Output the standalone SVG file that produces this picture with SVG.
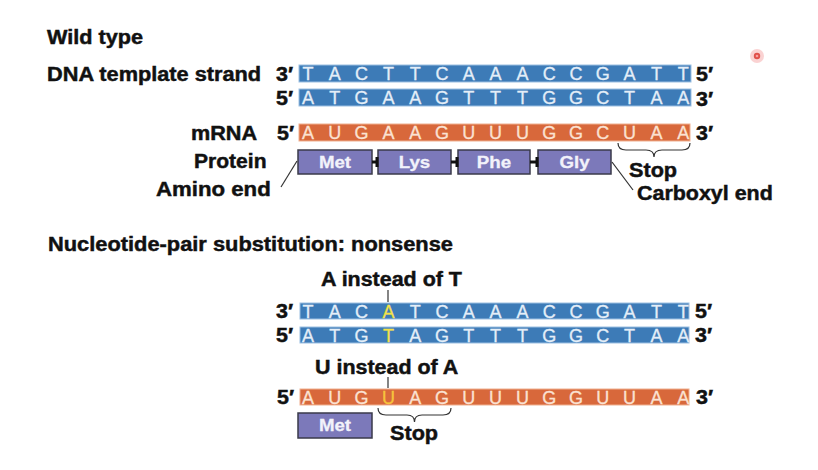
<svg xmlns="http://www.w3.org/2000/svg" width="818" height="470" viewBox="0 0 818 470">
<style>
.lb{font-family:"Liberation Sans",Arial,sans-serif;font-weight:bold;font-size:19.5px;fill:#111;stroke:#111;stroke-width:0.45}
.nt{font-family:"Liberation Sans",Arial,sans-serif;font-size:18px;text-anchor:middle;stroke-width:0.3}
.dna{fill:#3d7bb7;stroke:#9cc0e2;stroke-width:1}
.rna{fill:#d8683b;stroke:#f0b090;stroke-width:1}
.dl{fill:#e4eef8;stroke:#e4eef8}
.rl{fill:#fbe2d2;stroke:#fbe2d2}
.dl .mut{fill:#f3e24a;stroke:#f3e24a}
.rl .mutr{fill:#f7c43c;stroke:#f7c43c}
.box{fill:#7c79ba;stroke:#3a3a4a;stroke-width:1.5}
.bt{font-family:"Liberation Sans",Arial,sans-serif;font-weight:bold;font-size:17px;fill:#f2f2fa;stroke:#f2f2fa;stroke-width:0.3;text-anchor:middle}
.ln{stroke:#333;stroke-width:1.2;fill:none}
.bond{stroke:#111;stroke-width:3}
</style>
<rect width="818" height="470" fill="#ffffff"/>

<g id="titles">
<text class="lb" transform="translate(47,44) scale(1.11,1)">Wild type</text>
<text class="lb" transform="translate(48,251) scale(1.12,1)">Nucleotide-pair substitution: nonsense</text>
</g>

<g id="wt-template">
<text class="lb" transform="translate(47,81) scale(1.115,1)">DNA template strand</text>
<text class="lb" transform="translate(276,81) scale(1.1,1)">3′</text>
<rect class="dna" x="299" y="65" width="392" height="17"/>
<g class="nt dl">
<text x="308" y="80">T</text><text x="334.8" y="80">A</text><text x="361.6" y="80">C</text><text x="388.4" y="80">T</text><text x="415.2" y="80">T</text><text x="442" y="80">C</text><text x="468.8" y="80">A</text><text x="495.6" y="80">A</text><text x="522.4" y="80">A</text><text x="549.2" y="80">C</text><text x="576" y="80">C</text><text x="602.8" y="80">G</text><text x="629.6" y="80">A</text><text x="656.4" y="80">T</text><text x="683.2" y="80">T</text>
</g>
<text class="lb" transform="translate(696,81) scale(1.1,1)">5′</text>
</g>

<g id="wt-coding">
<text class="lb" transform="translate(276,105) scale(1.1,1)">5′</text>
<rect class="dna" x="299" y="89" width="392" height="17"/>
<g class="nt dl">
<text x="308" y="104">A</text><text x="334.8" y="104">T</text><text x="361.6" y="104">G</text><text x="388.4" y="104">A</text><text x="415.2" y="104">A</text><text x="442" y="104">G</text><text x="468.8" y="104">T</text><text x="495.6" y="104">T</text><text x="522.4" y="104">T</text><text x="549.2" y="104">G</text><text x="576" y="104">G</text><text x="602.8" y="104">C</text><text x="629.6" y="104">T</text><text x="656.4" y="104">A</text><text x="683.2" y="104">A</text>
</g>
<text class="lb" transform="translate(696,106) scale(1.1,1)">3′</text>
</g>

<g id="wt-mrna">
<text class="lb" transform="translate(191,140) scale(1.11,1)">mRNA</text>
<text class="lb" transform="translate(277,140) scale(1.1,1)">5′</text>
<rect class="rna" x="299" y="124" width="391" height="17"/>
<g class="nt rl">
<text x="308" y="139">A</text><text x="334.8" y="139">U</text><text x="361.6" y="139">G</text><text x="388.4" y="139">A</text><text x="415.2" y="139">A</text><text x="442" y="139">G</text><text x="468.8" y="139">U</text><text x="495.6" y="139">U</text><text x="522.4" y="139">U</text><text x="549.2" y="139">G</text><text x="576" y="139">G</text><text x="602.8" y="139">C</text><text x="629.6" y="139">U</text><text x="656.4" y="139">A</text><text x="683.2" y="139">A</text>
</g>
<text class="lb" transform="translate(696,140) scale(1.1,1)">3′</text>
</g>

<g id="wt-protein">
<text class="lb" transform="translate(194,168) scale(1.08,1)">Protein</text>
<g id="met1"><rect class="box" x="298" y="150" width="74" height="24"/><text class="bt" transform="translate(335,168) scale(1.1,1)">Met</text></g>
<g id="lys1"><rect class="box" x="378" y="150" width="73" height="24"/><text class="bt" transform="translate(414.5,168) scale(1.1,1)">Lys</text></g>
<g id="phe1"><rect class="box" x="458" y="150" width="72" height="24"/><text class="bt" transform="translate(494,168) scale(1.1,1)">Phe</text></g>
<g id="gly1"><rect class="box" x="538" y="150" width="73" height="24"/><text class="bt" transform="translate(574.5,168) scale(1.1,1)">Gly</text></g>
<text class="lb" transform="translate(156,196) scale(1.14,1)">Amino end</text>
<text class="lb" transform="translate(629,177) scale(1.11,1)">Stop</text>
<text class="lb" transform="translate(637,200) scale(1.1,1)">Carboxyl end</text>
</g>

<g id="mut-template">
<text class="lb" transform="translate(321,286) scale(1.1,1)">A instead of T</text>
<text class="lb" transform="translate(276,318) scale(1.1,1)">3′</text>
<rect class="dna" x="300" y="303" width="389" height="16"/>
<g class="nt dl">
<text x="308" y="318">T</text><text x="334.8" y="318">A</text><text x="361.6" y="318">C</text><text class="mut" x="388.4" y="318">A</text><text x="415.2" y="318">T</text><text x="442" y="318">C</text><text x="468.8" y="318">A</text><text x="495.6" y="318">A</text><text x="522.4" y="318">A</text><text x="549.2" y="318">C</text><text x="576" y="318">C</text><text x="602.8" y="318">G</text><text x="629.6" y="318">A</text><text x="656.4" y="318">T</text><text x="683.2" y="318">T</text>
</g>
<text class="lb" transform="translate(695,318) scale(1.1,1)">5′</text>
</g>

<g id="mut-coding">
<text class="lb" transform="translate(276,342) scale(1.1,1)">5′</text>
<rect class="dna" x="300" y="327" width="389" height="16"/>
<g class="nt dl">
<text x="308" y="342">A</text><text x="334.8" y="342">T</text><text x="361.6" y="342">G</text><text class="mut" x="388.4" y="342">T</text><text x="415.2" y="342">A</text><text x="442" y="342">G</text><text x="468.8" y="342">T</text><text x="495.6" y="342">T</text><text x="522.4" y="342">T</text><text x="549.2" y="342">G</text><text x="576" y="342">G</text><text x="602.8" y="342">C</text><text x="629.6" y="342">T</text><text x="656.4" y="342">A</text><text x="683.2" y="342">A</text>
</g>
<text class="lb" transform="translate(695,342) scale(1.1,1)">3′</text>
</g>

<g id="mut-mrna">
<text class="lb" transform="translate(315,374) scale(1.1,1)">U instead of A</text>
<text class="lb" transform="translate(277,404) scale(1.1,1)">5′</text>
<rect class="rna" x="300" y="389" width="389" height="16"/>
<g class="nt rl">
<text x="308" y="404">A</text><text x="334.8" y="404">U</text><text x="361.6" y="404">G</text><text class="mutr" x="388.4" y="404">U</text><text x="415.2" y="404">A</text><text x="442" y="404">G</text><text x="468.8" y="404">U</text><text x="495.6" y="404">U</text><text x="522.4" y="404">U</text><text x="549.2" y="404">G</text><text x="576" y="404">G</text><text x="602.8" y="404">U</text><text x="629.6" y="404">U</text><text x="656.4" y="404">A</text><text x="683.2" y="404">A</text>
</g>
<text class="lb" transform="translate(696,404) scale(1.1,1)">3′</text>
</g>

<g id="mut-protein">
<g id="met2"><rect class="box" x="298" y="413" width="74" height="25"/><text class="bt" transform="translate(335,431) scale(1.1,1)">Met</text></g>
<text class="lb" transform="translate(390,440) scale(1.11,1)">Stop</text>
</g>

<g id="connectors">
<line class="bond" x1="372" y1="162" x2="378" y2="162"/>
<line class="bond" x1="377" y1="157" x2="377" y2="167"/>
<line class="bond" x1="451" y1="162" x2="458" y2="162"/>
<line class="bond" x1="457" y1="157" x2="457" y2="167"/>
<line class="bond" x1="530" y1="162" x2="538" y2="162"/>
<line class="bond" x1="537" y1="157" x2="537" y2="167"/>
<line class="ln" x1="297" y1="161" x2="281" y2="187"/>
<line class="ln" x1="612" y1="162" x2="633" y2="190"/>
<path class="ln" d="M618,143 Q618,150 626,150 L646,150 Q654,150 654,157 Q654,150 662,150 L682,150 Q690,150 690,143"/>
<path class="ln" d="M378,408 Q378,415 386,415 L407,415 Q414.5,415 414.5,422 Q414.5,415 422,415 L443,415 Q451,415 451,408"/>
<line class="ln" x1="388" y1="290" x2="388" y2="302"/>
<line class="ln" x1="388" y1="377" x2="388" y2="388"/>
</g>

<g id="pointer">
<circle cx="757" cy="56" r="7" fill="#f6b4b4" opacity="0.6"/>
<circle cx="757" cy="56" r="3.2" fill="#e0504a"/>
<circle cx="757" cy="56" r="1.3" fill="#f6a0a0"/>
</g>
</svg>
